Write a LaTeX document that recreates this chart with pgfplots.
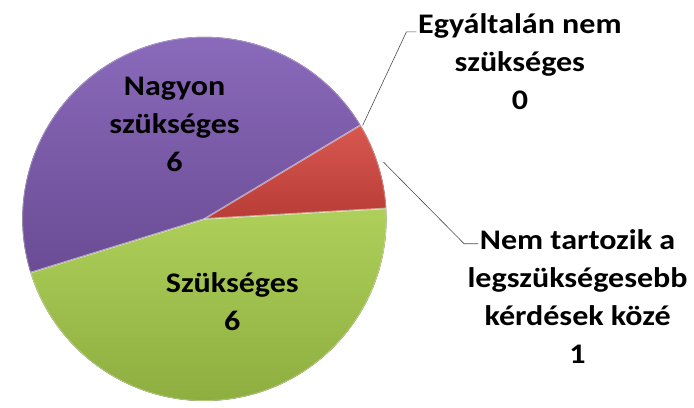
\documentclass[border=0pt]{standalone}
\usepackage{fontspec}
\setmainfont{Carlito}[FakeStretch=1.13]
\usepackage{pgfplots}
\pgfplotsset{compat=1.18}

\definecolor{redtop}{HTML}{D85850}
\definecolor{redbot}{HTML}{B83C37}
\definecolor{greentop}{HTML}{AED05A}
\definecolor{greenbot}{HTML}{8DAD3F}
\definecolor{purpletop}{HTML}{8C6CBD}
\definecolor{purplebot}{HTML}{6A4B94}

% slice values, in the order Excel draws them (clockwise)
\def\vA{0}  % Egyaltalan nem szukseges
\def\vB{1}  % Nem tartozik a legszuksegesebb kerdesek koze
\def\vC{6}  % Szukseges
\def\vD{6}  % Nagyon szukseges
\pgfmathsetmacro\total{\vA+\vB+\vC+\vD}
\pgfmathsetmacro\aA{31}
\pgfmathsetmacro\aB{\aA-360*\vA/\total}
\pgfmathsetmacro\aC{\aB-360*\vB/\total}
\pgfmathsetmacro\aD{\aC-360*\vC/\total}
\pgfmathsetmacro\aE{\aD-360*\vD/\total}
\def\rad{183pt}

\begin{document}
\begin{tikzpicture}
\begin{axis}[
width=694pt, height=410pt, scale only axis,
xmin=0, xmax=694, ymin=0, ymax=410,
hide axis, clip=false,
]
\path (axis cs:0,0) rectangle (axis cs:694,410);

% slices
\fill[top color=redtop, bottom color=redbot]
  (axis cs:202,190) -- ++(\aB:\rad) arc[start angle=\aB, end angle=\aC, radius=\rad] -- cycle;
\fill[top color=greentop, bottom color=greenbot]
  (axis cs:202,190) -- ++(\aC:\rad) arc[start angle=\aC, end angle=\aD, radius=\rad] -- cycle;
\fill[top color=purpletop, bottom color=purplebot]
  (axis cs:202,190) -- ++(\aD:\rad) arc[start angle=\aD, end angle=\aE, radius=\rad] -- cycle;

% bevel highlights
\draw[white, opacity=0.3, line width=1.6pt, line join=round]
  (axis cs:202,190) -- ++(\aB:\rad) arc[start angle=\aB, end angle=\aC, radius=\rad] -- cycle;
\draw[white, opacity=0.3, line width=1.6pt, line join=round]
  (axis cs:202,190) -- ++(\aC:\rad) arc[start angle=\aC, end angle=\aD, radius=\rad] -- cycle;
\draw[white, opacity=0.3, line width=1.6pt, line join=round]
  (axis cs:202,190) -- ++(\aD:\rad) arc[start angle=\aD, end angle=\aE, radius=\rad] -- cycle;

% leader lines
\draw[black!70, line width=0.6pt] (axis cs:361,284) -- (axis cs:405,378) -- (axis cs:415,378);
\draw[black!70, line width=0.6pt] (axis cs:382,247) -- (axis cs:463,165) -- (axis cs:477,165);

% labels
\tikzset{lbl/.style={font=\fontsize{28.5}{38.3}\selectfont\bfseries, align=center, inner sep=0pt}}
\node[lbl] at (axis cs:519,348) {Egyáltalán nem\\szükséges\\0};
\node[lbl] at (axis cs:577,112) {Nem tartozik a\\legszükségesebb\\kérdések közé\\1};
\node[lbl] at (axis cs:172,285) {Nagyon\\szükséges\\6};
\node[lbl] at (axis cs:230,107) {Szükséges\\6};
\end{axis}
\end{tikzpicture}
\end{document}
